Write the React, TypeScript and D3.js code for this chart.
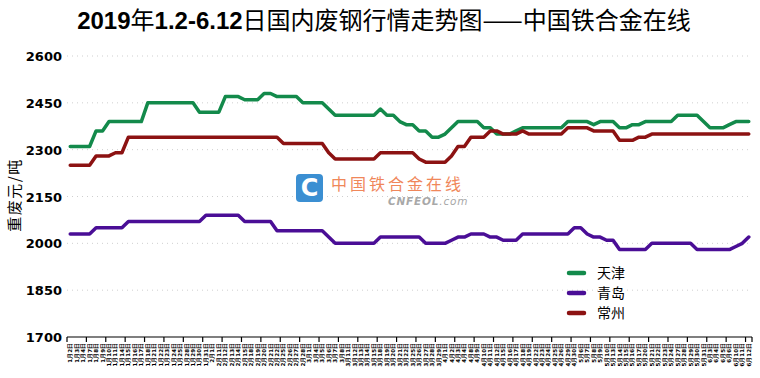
import React from "react";
import * as d3 from "d3";

const dates: string[] = [
  "1月2日","1月3日","1月4日","1月7日","1月8日","1月9日","1月10日","1月11日","1月14日","1月15日","1月16日","1月17日","1月18日","1月21日","1月22日","1月23日","1月24日","1月25日","1月28日","1月29日","1月30日","1月31日",
  "2月1日","2月11日","2月12日","2月13日","2月14日","2月15日","2月18日","2月19日","2月20日","2月21日","2月22日","2月25日","2月26日","2月27日","2月28日",
  "3月1日","3月4日","3月5日","3月6日","3月7日","3月8日","3月11日","3月12日","3月13日","3月14日","3月15日","3月18日","3月19日","3月20日","3月21日","3月22日","3月25日","3月26日","3月27日","3月28日","3月29日",
  "4月1日","4月2日","4月3日","4月4日","4月8日","4月9日","4月10日","4月11日","4月12日","4月15日","4月16日","4月17日","4月18日","4月19日","4月22日","4月23日","4月24日","4月25日","4月26日","4月29日","4月30日",
  "5月6日","5月7日","5月8日","5月9日","5月10日","5月13日","5月14日","5月15日","5月16日","5月17日","5月20日","5月21日","5月22日","5月23日","5月24日","5月27日","5月28日","5月29日","5月30日","5月31日",
  "6月3日","6月4日","6月5日","6月6日","6月10日","6月11日","6月12日",
];

const tianjin: number[] = [
  2310,2310,2310,2310,2360,2360,2390,2390,2390,2390,2390,2390,
  2450,2450,2450,2450,2450,2450,2450,2450,2420,2420,2420,2420,
  2470,2470,2470,2460,2460,2460,2480,2480,2470,2470,2470,2470,
  2450,2450,2450,2450,2430,2410,2410,2410,2410,2410,2410,2410,
  2430,2410,2410,2390,2380,2380,2360,2360,2340,2340,2350,2370,
  2390,2390,2390,2390,2370,2370,2350,2350,2350,2360,
  2370,2370,2370,2370,2370,2370,2370,2390,2390,2390,2390,2380,
  2390,2390,2390,2370,2370,2380,2380,2390,2390,2390,2390,2390,
  2410,2410,2410,2410,2390,2370,2370,2370,2380,2390,2390,2390,
];

const qingdao: number[] = [
  2030,2030,2030,2030,2050,2050,2050,2050,2050,
  2070,2070,2070,2070,2070,2070,2070,2070,2070,2070,2070,2070,
  2090,2090,2090,2090,2090,2090,2070,2070,2070,2070,2070,
  2040,2040,2040,2040,2040,2040,2040,2040,2020,
  2000,2000,2000,2000,2000,2000,2000,
  2020,2020,2020,2020,2020,2020,2020,2000,2000,2000,2000,
  2010,2020,2020,2030,2030,2030,2020,2020,2010,2010,2010,
  2030,2030,2030,2030,2030,2030,2030,2030,2050,2050,2030,2020,2020,2010,2010,
  1980,1980,1980,1980,1980,2000,2000,2000,2000,2000,2000,2000,
  1980,1980,1980,1980,1980,1980,1990,2000,2020,
];

const changzhou: number[] = [
  2250,2250,2250,2250,2280,2280,2280,2290,2290,
  2340,2340,2340,2340,2340,2340,2340,2340,2340,2340,2340,2340,
  2340,2340,2340,2340,2340,2340,2340,2340,2340,2340,2340,2340,
  2320,2320,2320,2320,2320,2320,2320,2290,
  2270,2270,2270,2270,2270,2270,2270,
  2290,2290,2290,2290,2290,2290,2270,2260,2260,2260,2260,2280,
  2310,2310,2340,2340,2340,2360,2360,2350,2350,2350,2360,
  2350,2350,2350,2350,2350,2350,2370,2370,2370,2370,
  2360,2360,2360,2360,2330,2330,2330,2340,2340,
  2350,2350,2350,2350,2350,2350,2350,2350,2350,2350,2350,2350,2350,2350,2350,2350,
];

const yTicks: number[] = [1700, 1850, 2000, 2150, 2300, 2450, 2600];

const seriesNames: string[] = ["天津", "青岛", "常州"];
const seriesColors: string[] = ["#138a4b", "#4a0e96", "#8c1212"];

const W = 760;
const H = 378;
const left = 67;
const right = 752;
const top = 56;
const bottom = 337;

export default function App() {
  const x = d3.scaleBand<string>().domain(dates).range([left, right]).padding(0);
  const y = d3.scaleLinear().domain([1700, 2600]).range([bottom, top]);
  const cx = (d: string) => (x(d) as number) + x.bandwidth() / 2;

  const seriesData = [tianjin, qingdao, changzhou];
  const line = d3
    .line<number>()
    .x((_, i) => cx(dates[i]))
    .y((v) => y(v));

  const tickIdx = dates.map((_, i) => i).filter((i) => i % 3 === 0);
  const tickXs = [...tickIdx.map((i) => x(dates[i]) as number), right];

  return (
    <svg
      width={W}
      height={H}
      style={{ position: "absolute", left: 0, top: 0, background: "#fff" }}
      xmlns="http://www.w3.org/2000/svg"
    >
      <rect x={0} y={0} width={W} height={H} fill="#fff" />
      {/* title */}
      <text x={384} y={29} textAnchor="middle" fontSize={24} fill="#000">
        <tspan fontFamily="Liberation Sans, Arial" fontWeight="bold">2019</tspan>
        <tspan fontFamily="Noto Sans CJK SC">年</tspan>
        <tspan fontFamily="Liberation Sans, Arial" fontWeight="bold">1.2-6.12</tspan>
        <tspan fontFamily="Noto Sans CJK SC">日国内废钢行情走势图——中国铁合金在线</tspan>
      </text>

      {/* gridlines */}
      {yTicks
        .filter((t) => t !== 1700)
        .map((t) => (
          <line
            key={"g" + t}
            x1={left}
            x2={right}
            y1={y(t)}
            y2={y(t)}
            stroke="#cfcfcf"
            strokeWidth={1}
            strokeDasharray="1,4"
          />
        ))}

      {/* y tick labels */}
      {yTicks.map((t) => (
        <text
          key={"yl" + t}
          x={62}
          y={y(t) + 5}
          textAnchor="end"
          fontFamily="DejaVu Sans, Verdana"
          fontWeight="bold"
          fontSize={13}
          fill="#000"
        >
          {t}
        </text>
      ))}

      {/* y axis title */}
      <text
        transform={`translate(20,${195}) rotate(-90)`}
        textAnchor="middle"
        fontFamily="Noto Sans CJK SC"
        fontSize={15}
        letterSpacing={1.5}
        fill="#000"
      >
        重废元/吨
      </text>

      {/* watermark */}
      <g>
        <rect x={296} y={174} width={27} height={28} rx={4} fill="#3b8fd2" />
        <text
          x={309.5}
          y={196}
          textAnchor="middle"
          fontFamily="DejaVu Sans"
          fontWeight="bold"
          fontSize={24}
          fill="#fff"
        >
          C
        </text>
        <text
          x={331}
          y={190}
          fontFamily="Noto Sans CJK SC"
          fontSize={16}
          letterSpacing={3}
          fill="#f0875a"
        >
          中国铁合金在线
        </text>
        <text
          x={388}
          y={205}
          fontFamily="DejaVu Sans"
          fontStyle="italic"
          fontWeight="bold"
          fontSize={10.5}
          letterSpacing={0.8}
          fill="#a8a8a8"
        >
          CNFEOL
          <tspan fontWeight="normal">.com</tspan>
        </text>
      </g>

      {/* series */}
      {seriesData.map((s, k) => (
        <path
          key={"s" + k}
          d={line(s) || ""}
          fill="none"
          stroke={seriesColors[k]}
          strokeWidth={3.5}
          strokeLinejoin="round"
          strokeLinecap="round"
        />
      ))}

      {/* x axis */}
      <line x1={left} x2={right} y1={bottom} y2={bottom} stroke="#000" strokeWidth={1.2} />
      {tickXs.map((tx, i) => (
        <line key={"t" + i} x1={tx} x2={tx} y1={bottom} y2={bottom + 5} stroke="#000" strokeWidth={1.2} />
      ))}
      {dates.map((d) => (
        <text
          key={"xl" + d}
          transform={`translate(${cx(d) + 2},${343}) rotate(-90)`}
          textAnchor="end"
          fontFamily="DejaVu Sans"
          fontWeight="bold"
          fontSize={5.5}
          fill="#000"
        >
          {d}
        </text>
      ))}

      {/* legend */}
      {seriesNames.map((n, k) => (
        <g key={"lg" + n}>
          <line
            x1={569}
            x2={584}
            y1={273 + k * 20}
            y2={273 + k * 20}
            stroke={seriesColors[k]}
            strokeWidth={4.5}
            strokeLinecap="round"
          />
          <text
            x={597}
            y={278 + k * 20}
            fontFamily="Noto Sans CJK SC"
            fontSize={14}
            fill="#000"
          >
            {n}
          </text>
        </g>
      ))}
    </svg>
  );
}
